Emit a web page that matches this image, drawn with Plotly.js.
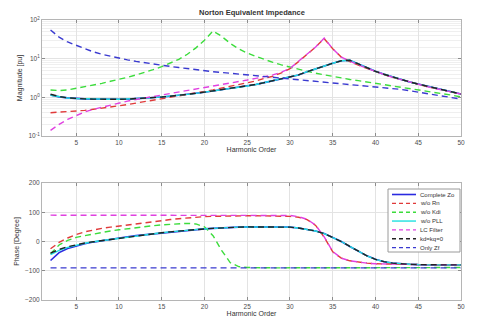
<!DOCTYPE html>
<html><head><meta charset="utf-8">
<script src="https://cdn.plot.ly/plotly-3.0.1.min.js"></script>
<style>html,body{margin:0;padding:0;background:#fff;}#plot{width:478px;height:326px;}</style>
</head><body><div id="plot"></div>
<script>
// Harmonic orders 2..50
const harmonics = [2,3,4,5,6,7,8,9,10,11,12,13,14,15,16,17,18,19,20,21,22,23,24,25,26,27,28,29,30,31,32,33,34,35,36,37,38,39,40,41,42,43,44,45,46,47,48,49,50];
const seriesNames = ["Complete Zo","w/o Rn","w/o Kdi","w/o PLL","LC Filter","kd=kq=0","Only Zf"];
const magTickVals = [0.1,1,10,100];
const magTickText = ["10<sup>-1</sup>","10<sup>0</sup>","10<sup>1</sup>","10<sup>2</sup>"];
const magMinorVals = [0.2,0.3,0.4,0.5,0.6,0.7,0.8,0.9,2,3,4,5,6,7,8,9,20,30,40,50,60,70,80,90];
const harmTickVals = [5,10,15,20,25,30,35,40,45,50];
const phaseTickVals = [-200,-100,0,100,200];

// Magnitude [pu]
const magComplete = [1.15,1.03,0.97,0.93,0.91,0.9,0.89,0.89,0.89,0.9,0.92,0.95,0.98,1.02,1.07,1.12,1.19,1.27,1.36,1.46,1.57,1.69,1.82,1.97,2.15,2.4,2.7,3.0,3.35,3.8,4.6,5.5,6.5,7.6,8.8,9.1,7.3,5.8,4.7,3.95,3.35,2.9,2.5,2.2,1.95,1.73,1.54,1.37,1.22];
const magNoRn = [0.40,0.41,0.42,0.44,0.46,0.49,0.52,0.56,0.6,0.65,0.71,0.77,0.84,0.92,1.0,1.09,1.19,1.3,1.42,1.56,1.72,1.9,2.1,2.35,2.65,3.1,3.5,4.3,5.5,8.4,13,20,33,18,11,8.4,6.8,5.6,4.6,3.85,3.3,2.85,2.45,2.15,1.9,1.7,1.52,1.36,1.22];
const magNoKdi = [1.55,1.5,1.55,1.7,1.85,2.05,2.3,2.6,2.9,3.3,3.8,4.4,5.2,6.2,7.6,9.6,13,19,30,52,38,25,18,14,11.5,9.5,8,6.9,6.0,5.3,4.7,4.2,3.8,3.45,3.15,2.9,2.7,2.5,2.3,2.15,2.0,1.85,1.72,1.6,1.48,1.36,1.25,1.13,1.02];
const magNoPLL = [1.13,1.02,0.96,0.93,0.91,0.9,0.89,0.89,0.89,0.9,0.92,0.95,0.98,1.02,1.07,1.12,1.19,1.27,1.36,1.46,1.57,1.69,1.82,1.97,2.15,2.4,2.7,3.0,3.35,3.8,4.6,5.5,6.5,7.6,8.8,9.1,7.3,5.8,4.7,3.95,3.35,2.9,2.5,2.2,1.95,1.73,1.54,1.37,1.22];
const magLC = [0.14,0.2,0.27,0.34,0.42,0.49,0.56,0.64,0.72,0.8,0.88,0.96,1.05,1.15,1.25,1.36,1.48,1.61,1.76,1.92,2.1,2.3,2.55,2.8,3.1,3.4,3.8,4.5,5.6,8.6,13,20,34,18,11,8.5,6.9,5.65,4.65,3.9,3.3,2.85,2.46,2.16,1.9,1.7,1.52,1.36,1.22];
const magKd0 = [1.2,1.05,0.97,0.93,0.91,0.9,0.89,0.89,0.89,0.9,0.92,0.95,0.98,1.02,1.07,1.12,1.19,1.27,1.36,1.46,1.57,1.69,1.82,1.97,2.15,2.4,2.7,3.0,3.35,3.8,4.6,5.5,6.5,7.6,8.8,9.1,7.3,5.8,4.7,3.95,3.35,2.9,2.5,2.2,1.95,1.73,1.54,1.37,1.22];
const magOnlyZf = [55,36,27,22,18,15,13,11.5,10.3,9.3,8.5,7.8,7.2,6.7,6.3,5.9,5.5,5.2,4.9,4.6,4.4,4.2,4.0,3.8,3.6,3.45,3.3,3.15,3.0,2.85,2.7,2.6,2.5,2.4,2.3,2.2,2.1,2.0,1.92,1.82,1.72,1.6,1.48,1.37,1.26,1.16,1.07,0.98,0.9];

// Phase [Degree]
const phComplete = [-65,-38,-24,-15,-8,-2,3,8,12,16,20,23,27,30,33,36,39,41,43,45,47,48,49,50,50,51,51,50,49,46,41,36,27,14,0,-17,-34,-49,-61,-69,-74,-77,-78,-79,-80,-80,-80,-80,-80];
const phNoRn = [-25,-3,12,24,33,40,45,49,53,57,61,65,69,72,75,78,81,83,85,86,87,87,88,88,88,88,88,87,86,83,75,55,15,-35,-57,-66,-71,-74,-76,-77,-78,-78,-79,-79,-79,-80,-80,-80,-80];
const phNoKdi = [-42,-12,4,14,20,26,31,36,40,44,48,51,54,57,59,61,62,60,50,20,-30,-72,-86,-89,-90,-90,-90,-90,-90,-90,-90,-90,-90,-90,-90,-90,-90,-90,-90,-89,-89,-89,-89,-89,-89,-89,-89,-89,-89];
const phNoPLL = [-45,-30,-20,-12,-6,-1,3,8,12,16,20,23,27,30,33,36,39,41,43,45,47,48,49,50,50,51,51,50,49,46,41,36,27,14,0,-17,-34,-49,-61,-69,-74,-77,-78,-79,-80,-80,-80,-80,-80];
const phLC = [90,90,90,90,90,90,90,90,90,90,90,90,90,90,90,90,90,90,90,90,90,90,90,90,90,90,90,90,89,85,76,56,16,-34,-57,-66,-71,-74,-76,-77,-78,-78,-79,-79,-79,-80,-80,-80,-80];
const phKd0 = [-40,-27,-18,-11,-5,-1,3,8,12,16,20,23,27,30,33,36,39,41,43,45,47,48,49,50,50,51,51,50,49,46,41,36,27,14,0,-17,-34,-49,-61,-69,-74,-77,-78,-79,-80,-80,-80,-80,-80];
const phOnlyZf = [-90,-90,-90,-90,-90,-90,-90,-90,-90,-90,-90,-90,-90,-90,-90,-90,-90,-90,-90,-90,-90,-90,-90,-90,-90,-90,-90,-90,-90,-90,-90,-90,-90,-90,-90,-90,-90,-90,-90,-90,-90,-90,-90,-90,-90,-90,-90,-90,-90];

const styles = [
  {color:'#2a2ae0', dash:'solid', width:1.6},
  {color:'#e03a3a', dash:'6px,4px', width:1.4},
  {color:'#3cdc3c', dash:'6px,4px', width:1.4},
  {color:'#20e0e0', dash:'solid', width:1.4},
  {color:'#e040e0', dash:'6px,4px', width:1.4},
  {color:'#222222', dash:'6px,4px', width:1.4},
  {color:'#3a3ad0', dash:'6px,4px', width:1.4}
];
const mags = [magComplete,magNoRn,magNoKdi,magNoPLL,magLC,magKd0,magOnlyZf];
const phs = [phComplete,phNoRn,phNoKdi,phNoPLL,phLC,phKd0,phOnlyZf];

const traces = [];
mags.forEach((m,i)=>traces.push({x:harmonics,y:m,type:'scatter',mode:'lines',name:seriesNames[i],line:styles[i],xaxis:'x',yaxis:'y',showlegend:false}));
phs.forEach((p,i)=>traces.push({x:harmonics,y:p,type:'scatter',mode:'lines',name:seriesNames[i],line:styles[i],xaxis:'x2',yaxis:'y2',showlegend:false}));

const W=478,H=326,L=42,R=17,T=20,B=26;
const pw=W-L-R, ph=H-T-B;
const px=(x)=>(x-L)/pw, py=(y)=>(H-B-y)/ph;

const FF='Liberation Sans, Arial, sans-serif';
const axFont={family:FF,size:6.5,color:'#4d4d4d'};
const common={showline:true,mirror:'ticks',linecolor:'#b5b5b5',linewidth:1,ticks:'inside',ticklen:3,tickcolor:'#8c8c8c',gridcolor:'#e3e3e3',zeroline:false,tickfont:axFont};

// manual compact legend (MATLAB style)
const shapes=[{type:'rect',xref:'paper',yref:'paper',x0:px(388),x1:px(460),y0:py(252),y1:py(189),line:{color:'#9a9a9a',width:1},fillcolor:'#ffffff'}];
const annotations=[{text:'<b>Norton Equivalent Impedance</b>',xref:'paper',yref:'paper',x:0.5,y:py(12),xanchor:'center',yanchor:'middle',showarrow:false,font:{family:FF,size:7.5,color:'#333'}}];
seriesNames.forEach((n,i)=>{
  const yy=194.5+i*8.85;
  shapes.push({type:'line',xref:'paper',yref:'paper',x0:px(392),x1:px(416),y0:py(yy),y1:py(yy),line:{color:styles[i].color,width:styles[i].width,dash:styles[i].dash==='solid'?'solid':'4px,3px'}});
  annotations.push({text:n,xref:'paper',yref:'paper',x:px(418),y:py(yy),xanchor:'left',yanchor:'middle',showarrow:false,font:{family:FF,size:6,color:'#333'}});
});

const layout={
  width:W,height:H,margin:{l:L,r:R,t:T,b:B},paper_bgcolor:'#fff',plot_bgcolor:'#fff',
  showlegend:false,
  xaxis:Object.assign({},common,{range:[1,50],tickvals:harmTickVals,anchor:'y',domain:[0,1],
    title:{text:'Harmonic Order',font:{family:FF,size:7,color:'#333'},standoff:2}}),
  yaxis:Object.assign({},common,{type:'log',range:[-1,2],tickvals:magTickVals,ticktext:magTickText,domain:[py(136),1],anchor:'x',
    minor:{showgrid:true,gridcolor:'#efefef',ticks:'',tickmode:'array',tickvals:magMinorVals},
    title:{text:'Magnitude [pu]',font:{family:FF,size:7,color:'#333'},standoff:4}}),
  xaxis2:Object.assign({},common,{range:[1,50],tickvals:harmTickVals,anchor:'y2',domain:[0,1],
    title:{text:'Harmonic Order',font:{family:FF,size:7,color:'#333'},standoff:2}}),
  yaxis2:Object.assign({},common,{range:[-200,200],tickvals:phaseTickVals,domain:[0,py(183)],anchor:'x2',
    title:{text:'Phase [Degree]',font:{family:FF,size:7,color:'#333'},standoff:4}}),
  shapes:shapes,annotations:annotations
};
Plotly.newPlot('plot',traces,layout,{staticPlot:true,displayModeBar:false});
</script></body></html>
